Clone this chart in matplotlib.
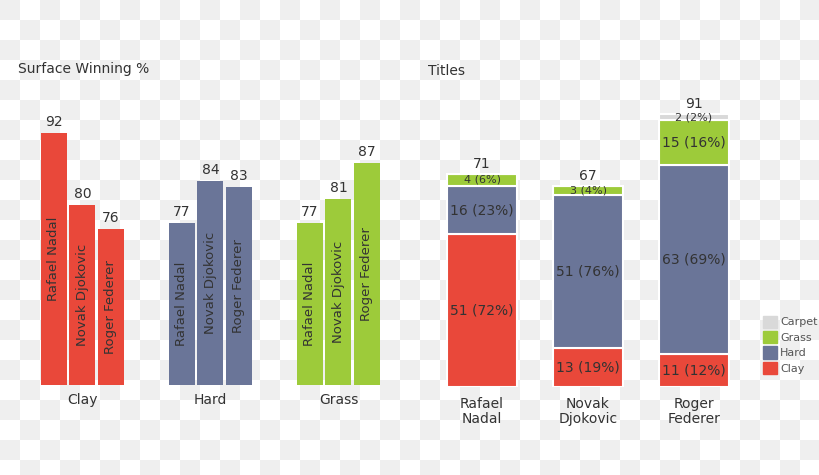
import numpy as np
import matplotlib.pyplot as plt

# datos
players = ['Rafael Nadal', 'Novak Djokovic', 'Roger Federer']
player_ticks = ['Rafael\nNadal', 'Novak\nDjokovic', 'Roger\nFederer']
surfaces = ['Clay', 'Hard', 'Grass']
clay_pct = [92, 80, 76]
hard_pct = [77, 84, 83]
grass_pct = [77, 81, 87]

titles_clay = [51, 13, 11]
titles_hard = [16, 51, 63]
titles_grass = [4, 3, 15]
titles_carpet = [0, 0, 2]

c_clay = '#E9483A'
c_hard = '#6A7598'
c_grass = '#9DCB3A'
c_carpet = '#D9D9D9'
txt = '#333333'

plt.rcParams['font.family'] = ['DejaVu Sans']

W, H = 820, 475
fig = plt.figure(figsize=(W / 100, H / 100), dpi=100)

# fondo a cuadros
yy, xx = np.mgrid[0:H, 0:W]
chk = ((xx // 20 + yy // 20) % 2 == 0)
bg = np.ones((H, W, 3))
bg[chk] = 0.94
fig.figimage(bg, xo=0, yo=0, origin='upper', zorder=-10)

def px_axes(left, top, right, bottom):
    return fig.add_axes([left / W, 1 - bottom / H, (right - left) / W, (bottom - top) / H])

# ---- panel izquierdo: Surface Winning %
ax1 = px_axes(20, 85, 404, 385)
ax1.set_xlim(-0.488, 2.512)
ax1.set_ylim(50, 100)
pitch = 0.2227
width = 0.203
cols = [c_clay, c_hard, c_grass]
for g, vals in enumerate([clay_pct, hard_pct, grass_pct]):
    for i, v in enumerate(vals):
        x = g + (i - 1) * pitch
        ax1.bar(x, v - 50, bottom=50, width=width, color=cols[g], zorder=2)
        ax1.annotate(str(v), (x, v), xytext=(0, 3), textcoords='offset points',
                     ha='center', va='bottom', fontsize=10, color=txt)
        ax1.text(x, (v + 50) / 2, players[i], rotation=90, ha='center', va='center',
                 fontsize=9.5, color=txt, zorder=3)
ax1.set_xticks(range(3))
ax1.set_xticklabels(surfaces, fontsize=10, color=txt)
ax1.tick_params(length=0, pad=6, left=False, labelleft=False)
ax1.set_facecolor('none')
for s in ax1.spines.values():
    s.set_visible(False)

# ---- panel derecho: Titles
ax2 = px_axes(420, 87, 750, 387)
ax2.set_xlim(-0.585, 2.528)
ax2.set_ylim(0, 100)
x2 = np.arange(3)
bottom = np.zeros(3)
segs = [(titles_clay, c_clay), (titles_hard, c_hard), (titles_grass, c_grass), (titles_carpet, c_carpet)]
totals = np.array(titles_clay) + np.array(titles_hard) + np.array(titles_grass) + np.array(titles_carpet)
for vals, col in segs:
    vals = np.array(vals)
    ax2.bar(x2, vals, bottom=bottom, width=0.66, color=col, edgecolor='white', linewidth=1.5, zorder=2)
    for i, v in enumerate(vals):
        if v == 0:
            continue
        pct = round(100 * v / totals[i])
        fs = 8 if v < 5 else 10
        ax2.text(x2[i], bottom[i] + v / 2, f'{v} ({pct}%)', ha='center', va='center',
                 fontsize=fs, color=txt, zorder=3)
    bottom = bottom + vals
for i, t in enumerate(totals):
    ax2.annotate(str(t), (x2[i], t), xytext=(0, 2), textcoords='offset points',
                 ha='center', va='bottom', fontsize=10, color=txt)
ax2.set_xticks(x2)
ax2.set_xticklabels(player_ticks, fontsize=10, color=txt, linespacing=1.1)
ax2.tick_params(length=0, pad=7, left=False, labelleft=False)
ax2.set_facecolor('none')
for s in ax2.spines.values():
    s.set_visible(False)

# titulos
fig.text(18 / W, 1 - 69 / H, 'Surface Winning %', fontsize=10, color=txt, va='center')
fig.text(428 / W, 1 - 71 / H, 'Titles', fontsize=10, color=txt, va='center')

# leyenda
handles = [plt.Rectangle((0, 0), 1, 1, color=c) for c in [c_carpet, c_grass, c_hard, c_clay]]
fig.legend(handles, ['Carpet', 'Grass', 'Hard', 'Clay'], loc='upper left',
           bbox_to_anchor=(757 / W, 1 - 310 / H), frameon=False, fontsize=8,
           handlelength=1.3, handleheight=1.3, handletextpad=0.3, labelspacing=0.3,
           labelcolor='#555555', borderpad=0)

fig.savefig('out.png', dpi=100)
